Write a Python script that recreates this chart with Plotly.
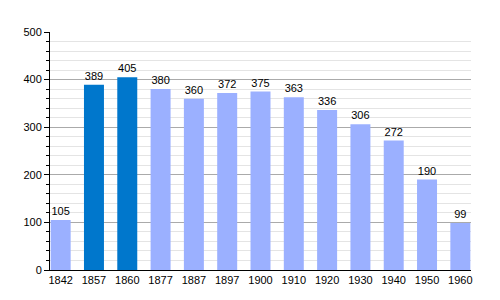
import plotly.graph_objects as go

years = ["1842", "1857", "1860", "1877", "1887", "1897", "1900", "1910", "1920", "1930", "1940", "1950", "1960"]
population = [105, 389, 405, 380, 360, 372, 375, 363, 336, 306, 272, 190, 99]
highlight = [False, True, True, False, False, False, False, False, False, False, False, False, False]

light = "#9BB0FF"
dark = "#0077CC"
colors = [dark if h else light for h in highlight]

fig = go.Figure(go.Bar(
    x=years, y=population, marker=dict(color=colors, line=dict(width=0)),
    text=[str(v) for v in population], textposition="outside",
    textfont=dict(family="Liberation Sans", size=11, color="#000"),
    cliponaxis=False, width=0.6,
))
fig.update_layout(
    width=500, height=300, margin=dict(l=50, r=29, t=32, b=30),
    paper_bgcolor="white", plot_bgcolor="white", showlegend=False,
    font=dict(family="Liberation Sans", size=11, color="#000"),
    xaxis=dict(type="category", range=[-0.32, 12.32], showline=True, linecolor="#000", linewidth=1,
               ticks="", showgrid=False, tickfont=dict(size=11)),
    yaxis=dict(range=[0, 500], dtick=100, showline=True, linecolor="#000", linewidth=1,
               ticks="outside", ticklen=5, tickcolor="#000",
               gridcolor="#AAAAAA", gridwidth=1, zeroline=False,
               minor=dict(dtick=20, ticks="outside", ticklen=3, tickcolor="#000",
                          showgrid=True, gridcolor="#E4E4E4", gridwidth=1)),
)
fig.write_html("out.html")
